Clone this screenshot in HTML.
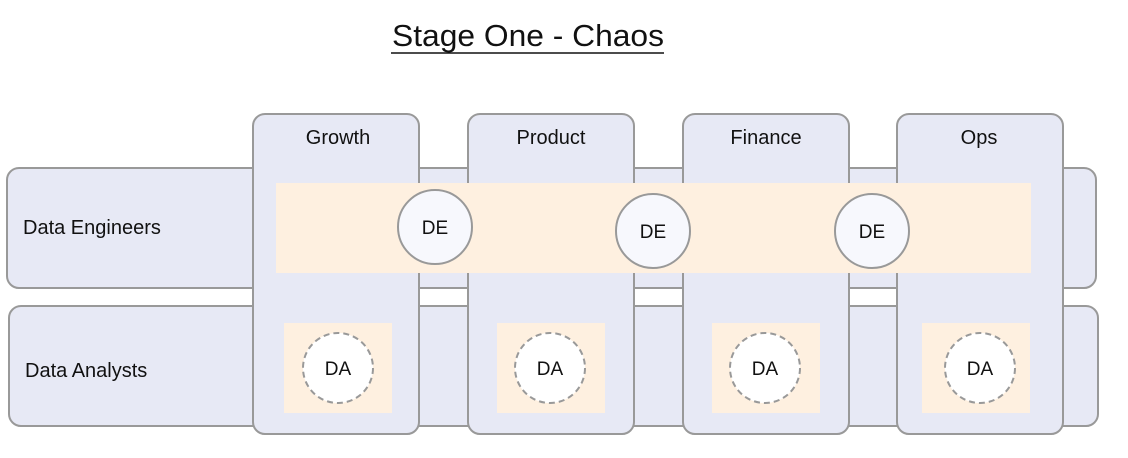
<!DOCTYPE html>
<html><head><style>body{margin:0;background:#fff}svg{display:block}text{font-family:"Liberation Sans",sans-serif;fill:#111}</style></head>
<body>
<svg width="1128" height="458" viewBox="0 0 1128 458">
<text x="528" y="46" font-size="31" text-anchor="middle" textLength="272" lengthAdjust="spacingAndGlyphs">Stage One - Chaos</text>
<line x1="391" y1="53" x2="664" y2="53" stroke="#111" stroke-width="1.5"/>
<g stroke="#999" stroke-width="2" fill="#e7e9f5">
<rect x="7" y="168" width="1089" height="120" rx="12"/>
<rect x="9" y="306" width="1089" height="120" rx="12"/>
<rect x="253" y="114" width="166" height="320" rx="12"/>
<rect x="468" y="114" width="166" height="320" rx="12"/>
<rect x="683" y="114" width="166" height="320" rx="12"/>
<rect x="897" y="114" width="166" height="320" rx="12"/>
</g>
<g fill="#fef0e0">
<rect x="276" y="183" width="755" height="90"/>
<rect x="284" y="323" width="108" height="90"/>
<rect x="497" y="323" width="108" height="90"/>
<rect x="712" y="323" width="108" height="90"/>
<rect x="922" y="323" width="108" height="90"/>
</g>
<g stroke="#999" stroke-width="2" fill="#f7f8fd">
<circle cx="435" cy="227" r="37"/>
<circle cx="653" cy="231" r="37"/>
<circle cx="872" cy="231" r="37"/>
</g>
<g stroke="#999" stroke-width="2" fill="#fff" stroke-dasharray="6,4">
<circle cx="338" cy="368" r="35"/>
<circle cx="550" cy="368" r="35"/>
<circle cx="765" cy="368" r="35"/>
<circle cx="980" cy="368" r="35"/>
</g>
<g font-size="20" text-anchor="middle">
<text x="338" y="144">Growth</text>
<text x="551" y="144">Product</text>
<text x="766" y="144">Finance</text>
<text x="979" y="144">Ops</text>
</g>
<g font-size="19" text-anchor="middle">
<text x="435" y="234">DE</text>
<text x="653" y="238">DE</text>
<text x="872" y="238">DE</text>
<text x="338" y="375">DA</text>
<text x="550" y="375">DA</text>
<text x="765" y="375">DA</text>
<text x="980" y="375">DA</text>
</g>
<text x="23" y="234" font-size="20">Data Engineers</text>
<text x="25" y="377" font-size="20">Data Analysts</text>
</svg>
</body></html>
